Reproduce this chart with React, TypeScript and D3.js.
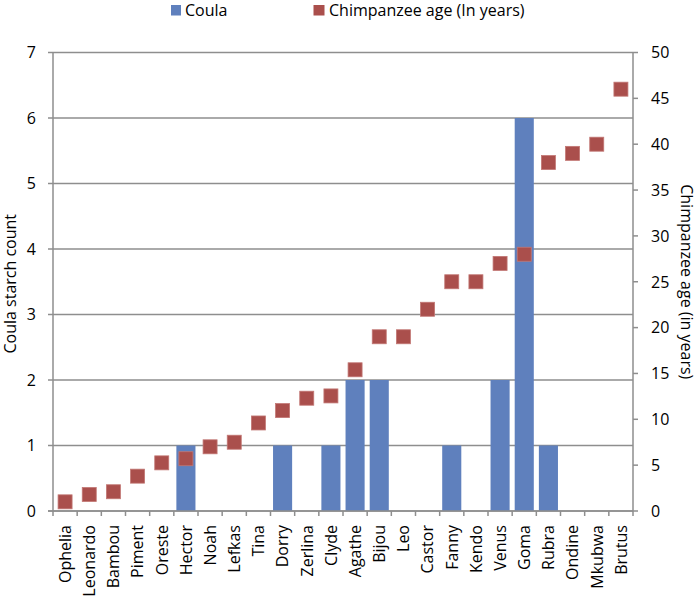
import React from "react";
import * as d3 from "d3";

const chimps = ["Ophelia","Leonardo","Bambou","Piment","Oreste","Hector","Noah","Lefkas","Tina","Dorry","Zerlina","Clyde","Agathe","Bijou","Leo","Castor","Fanny","Kendo","Venus","Goma","Rubra","Ondine","Mkubwa","Brutus"];
const coulaCounts = [0,0,0,0,0,1,0,0,0,1,0,1,2,2,0,0,1,0,2,6,1,0,0,0];
const ages = [1,1.8,2.1,3.8,5.25,5.7,7,7.5,9.6,10.95,12.3,12.55,15.4,19,19,22,25,25,27,28,38,39,40,46];
const leftTicks = [0,1,2,3,4,5,6,7];
const rightTicks = [0,5,10,15,20,25,30,35,40,45,50];

const FONT = "'Open Sans', Lato, sans-serif";
const BAR = "#5F80BD";
const MARK = "#AA4F4C";
const GRID = "#8E8E8E";

export default function App() {
  const W = 700, H = 598;
  const left = 53, right = 633, top = 52.5, bottom = 511;
  const x = d3.scaleBand<string>().domain(chimps).range([left, right]).paddingInner(0.21).paddingOuter(0.105);
  const xb = d3.scaleBand<string>().domain(chimps).range([left, right]);
  const yL = d3.scaleLinear().domain([0, 7]).range([bottom, top]);
  const yR = d3.scaleLinear().domain([0, 50]).range([bottom, top]);
  const ms = 14;
  const fs = 16;
  return (
    <svg width={W} height={H} style={{ position: "absolute", left: 0, top: 0, background: "#fff" }} fontFamily={FONT}>
      {leftTicks.map(t => (
        <line key={"g" + t} x1={left - 5} x2={right} y1={yL(t)} y2={yL(t)} stroke={GRID} strokeWidth={1.5} />
      ))}
      {chimps.map((c, i) => coulaCounts[i] > 0 ? (
        <rect key={"b" + c} x={x(c)} width={x.bandwidth()} y={yL(coulaCounts[i])} height={yL(0) - yL(coulaCounts[i])} fill={BAR} />
      ) : null)}
      <line x1={left} x2={left} y1={top} y2={bottom} stroke={GRID} strokeWidth={1.5} />
      <line x1={right} x2={right} y1={top} y2={bottom + 5} stroke={GRID} strokeWidth={1.5} />
      <line x1={left - 5} x2={right} y1={bottom} y2={bottom} stroke={GRID} strokeWidth={1.5} />
      {chimps.map(c => (
        <line key={"xt" + c} x1={xb(c)} x2={xb(c)} y1={bottom} y2={bottom + 5} stroke={GRID} strokeWidth={1.5} />
      ))}
      {rightTicks.map(t => (
        <line key={"rt" + t} x1={right} x2={right + 5} y1={yR(t)} y2={yR(t)} stroke={GRID} strokeWidth={1.5} />
      ))}
      {chimps.map((c, i) => (
        <rect key={"m" + c} x={(xb(c) as number) + xb.bandwidth() / 2 - ms / 2} y={yR(ages[i]) - ms / 2} width={ms} height={ms} fill={MARK} stroke="#C27774" strokeWidth={0.8} />
      ))}
      {leftTicks.map(t => (
        <text key={"lt" + t} x={36} y={yL(t)} dy="0.36em" textAnchor="end" fontSize={fs} fill="#000">{t}</text>
      ))}
      {rightTicks.map(t => (
        <text key={"rl" + t} x={651} y={yR(t)} dy="0.36em" textAnchor="start" fontSize={fs} fill="#000">{t}</text>
      ))}
      {chimps.map(c => (
        <text key={"xl" + c} transform={`translate(${(xb(c) as number) + xb.bandwidth() / 2},${bottom + 14}) rotate(-90)`} dy="0.36em" textAnchor="end" fontSize={fs} fill="#000">{c}</text>
      ))}
      <text transform={`translate(16,${(top + bottom) / 2 + 2}) rotate(-90)`} textAnchor="middle" fontSize={fs} fill="#000">Coula starch count</text>
      <text transform={`translate(681,${(top + bottom) / 2}) rotate(90)`} textAnchor="middle" fontSize={fs} fill="#000">Chimpanzee age (in years)</text>
      <rect x={171} y={5} width={10} height={10.5} fill={BAR} />
      <text x={185} y={16} fontSize={fs} fill="#000">Coula</text>
      <rect x={313.5} y={5} width={11} height={10.5} fill={MARK} />
      <text x={329} y={16} fontSize={fs} fill="#000">Chimpanzee age (In years)</text>
    </svg>
  );
}
